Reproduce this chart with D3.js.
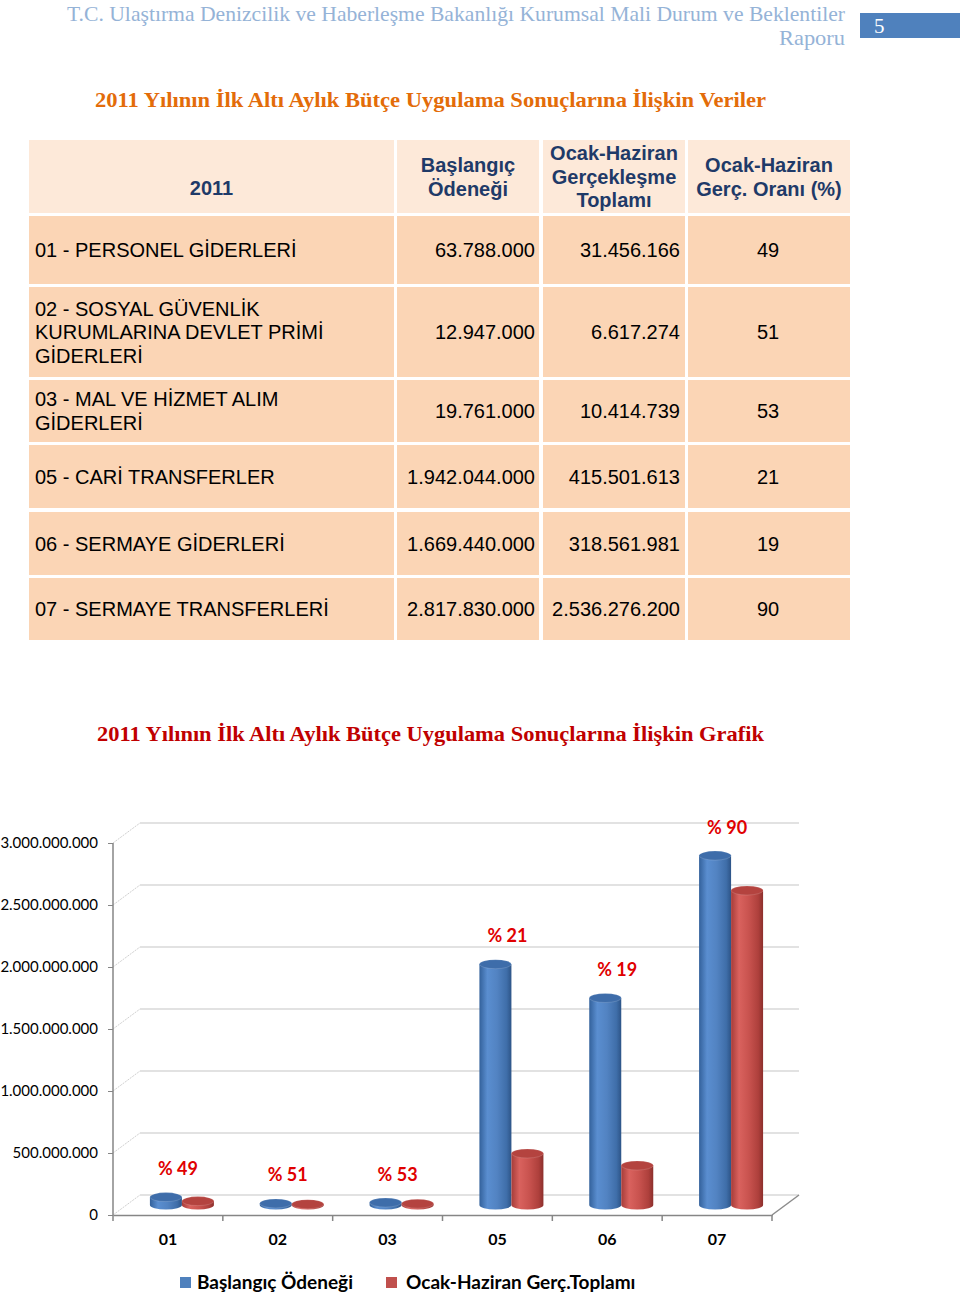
<!DOCTYPE html>
<html>
<head>
<meta charset="utf-8">
<script src="https://cdn.jsdelivr.net/npm/d3@7"></script>
<style>
html,body{margin:0;padding:0;background:#fff;}
svg{display:block;}
</style>
</head>
<body>
<svg id="page" width="960" height="1295"></svg>
<script>
// ---------- DATA ----------
const codes = ["01", "02", "03", "05", "06", "07"];
const rowNames = [
  ["01 - PERSONEL GİDERLERİ"],
  ["02 - SOSYAL GÜVENLİK", "KURUMLARINA DEVLET PRİMİ", "GİDERLERİ"],
  ["03 - MAL VE HİZMET ALIM", "GİDERLERİ"],
  ["05 - CARİ TRANSFERLER"],
  ["06 - SERMAYE GİDERLERİ"],
  ["07 - SERMAYE TRANSFERLERİ"]
];
const baslangic = [63788000, 12947000, 19761000, 1942044000, 1669440000, 2817830000];
const gerceklesme = [31456166, 6617274, 10414739, 415501613, 318561981, 2536276200];
const oran = [49, 51, 53, 21, 19, 90];
const yTicks = [0, 500000000, 1000000000, 1500000000, 2000000000, 2500000000, 3000000000];
const headerCols = [["2011"], ["Başlangıç", "Ödeneği"], ["Ocak-Haziran", "Gerçekleşme", "Toplamı"], ["Ocak-Haziran", "Gerç. Oranı (%)"]];
const seriesNames = ["Başlangıç Ödeneği", "Ocak-Haziran Gerç.Toplamı"];
const docTitle = ["T.C. Ulaştırma Denizcilik ve Haberleşme Bakanlığı Kurumsal Mali Durum ve Beklentiler", "Raporu"];
const pageNo = "5";
const tableTitle = "2011 Yılının İlk Altı Aylık Bütçe Uygulama Sonuçlarına İlişkin Veriler";
const chartTitle = "2011 Yılının İlk Altı Aylık Bütçe Uygulama Sonuçlarına İlişkin Grafik";

// ---------- SETUP ----------
const svg = d3.select("#page");
const tr = d3.formatLocale({decimal: ",", thousands: ".", grouping: [3], currency: ["", ""]});
const fmt = tr.format(",d");

// ---------- PAGE HEADER ----------
svg.append("text").attr("x", 845).attr("y", 21).attr("text-anchor", "end")
  .attr("font-family", "Liberation Serif").attr("font-size", 21).attr("fill", "#95B3D7")
  .attr("textLength", 778).attr("lengthAdjust", "spacingAndGlyphs").text(docTitle[0]);
svg.append("text").attr("x", 845).attr("y", 45).attr("text-anchor", "end")
  .attr("font-family", "Liberation Serif").attr("font-size", 21).attr("fill", "#95B3D7")
  .attr("textLength", 66).attr("lengthAdjust", "spacingAndGlyphs").text(docTitle[1]);
svg.append("rect").attr("x", 860).attr("y", 13).attr("width", 100).attr("height", 25).attr("fill", "#4F81BD");
svg.append("text").attr("x", 874).attr("y", 33).attr("font-family", "Liberation Serif")
  .attr("font-size", 21).attr("fill", "#fff").text(pageNo);

// ---------- TABLE TITLE ----------
svg.append("text").attr("x", 95).attr("y", 107)
  .attr("font-family", "Liberation Serif").attr("font-weight", "bold").attr("font-size", 21)
  .attr("fill", "#E36C09").attr("textLength", 671).attr("lengthAdjust", "spacingAndGlyphs").text(tableTitle);

// ---------- TABLE ----------
const colX = [[29, 394], [397, 539], [543, 685], [688, 850]];
const headRow = [140, 213];
const rowY = [[216, 284], [287, 377], [380, 442], [445, 508], [512, 575], [578, 640]];
const tbl = svg.append("g").attr("font-family", "Liberation Sans, Arial").attr("font-size", 20);

colX.forEach((c, i) => {
  tbl.append("rect").attr("x", c[0]).attr("y", headRow[0]).attr("width", c[1] - c[0])
    .attr("height", headRow[1] - headRow[0]).attr("fill", "#FDE9D9");
  const lines = headerCols[i];
  const cx = (c[0] + c[1]) / 2;
  const start = lines.length === 3 ? 160 : 195 - (lines.length - 1) * 23;
  lines.forEach((t, j) => {
    tbl.append("text").attr("x", cx).attr("y", start + j * 23.5)
      .attr("text-anchor", "middle").attr("font-weight", "bold").attr("fill", "#1F3A68").text(t);
  });
});

rowY.forEach((r, i) => {
  colX.forEach(c => {
    tbl.append("rect").attr("x", c[0]).attr("y", r[0]).attr("width", c[1] - c[0])
      .attr("height", r[1] - r[0]).attr("fill", "#FBD5B5");
  });
  const mid = (r[0] + r[1]) / 2;
  const lines = rowNames[i];
  lines.forEach((t, j) => {
    tbl.append("text").attr("x", 35).attr("y", mid + 7 + (j - (lines.length - 1) / 2) * 23.5)
      .attr("fill", "#000").text(t);
  });
  tbl.append("text").attr("x", 535).attr("y", mid + 7).attr("text-anchor", "end").text(fmt(baslangic[i]));
  tbl.append("text").attr("x", 680).attr("y", mid + 7).attr("text-anchor", "end").text(fmt(gerceklesme[i]));
  tbl.append("text").attr("x", 768).attr("y", mid + 7).attr("text-anchor", "middle").text(oran[i]);
});

// ---------- CHART TITLE ----------
svg.append("text").attr("x", 97).attr("y", 741)
  .attr("font-family", "Liberation Serif").attr("font-weight", "bold").attr("font-size", 21)
  .attr("fill", "#C00000").attr("textLength", 667).attr("lengthAdjust", "spacingAndGlyphs").text(chartTitle);

// ---------- CHART ----------
const x0 = 113, x1 = 772, yBottom = 1215, yTop = 843;
const dx = 27, dy = -20;           // 3D depth offset
const x = d3.scaleBand().domain(codes).range([x0, x1]).paddingInner(0).paddingOuter(0);
const y = d3.scaleLinear().domain([0, 3000000000]).range([yBottom, yTop]);
const chart = svg.append("g");

// back wall gridlines and side wall connectors
yTicks.forEach(v => {
  chart.append("line").attr("x1", x0 + dx).attr("x2", x1 + dx)
    .attr("y1", y(v) + dy).attr("y2", y(v) + dy).attr("stroke", "#D9D9D9").attr("stroke-width", 1.5);
  chart.append("line").attr("x1", x0).attr("y1", y(v)).attr("x2", x0 + dx).attr("y2", y(v) + dy)
    .attr("stroke", "#D0D0D0").attr("stroke-width", 1).attr("stroke-dasharray", "2,1");
});
// floor right edge
chart.append("line").attr("x1", x1).attr("y1", yBottom).attr("x2", x1 + dx).attr("y2", yBottom + dy)
  .attr("stroke", "#8C8C8C").attr("stroke-width", 1.5);

// gradients
const defs = svg.append("defs");
function grad(id, stops) {
  const g = defs.append("linearGradient").attr("id", id).attr("x1", "0%").attr("x2", "100%").attr("y1", "0%").attr("y2", "0%");
  stops.forEach(s => g.append("stop").attr("offset", s[0]).attr("stop-color", s[1]));
}
grad("gBlue", [["0%", "#33619B"], ["25%", "#5A8ED0"], ["55%", "#5283C2"], ["85%", "#3F6EA9"], ["100%", "#2D5487"]]);
grad("gRed", [["0%", "#A63C39"], ["25%", "#D9625E"], ["55%", "#C9534F"], ["85%", "#AE403C"], ["100%", "#8C2F2C"]]);

const barW = 32, rx = 16, ry = 4.5;
const depthX = 14, depthY = -10;
const series = [
  {vals: baslangic, fill: "url(#gBlue)", top: "#3E6DAA", off: 0},
  {vals: gerceklesme, fill: "url(#gRed)", top: "#B4433F", off: 1}
];
function cylinder(g, xl, ytop, ybase, fill, topFill) {
  const xr = xl + barW;
  g.append("path")
    .attr("d", `M${xl},${ytop} L${xl},${ybase} A${rx},${ry} 0 0 0 ${xr},${ybase} L${xr},${ytop} Z`)
    .attr("fill", fill);
  g.append("ellipse").attr("cx", xl + rx).attr("cy", ytop).attr("rx", rx).attr("ry", ry)
    .attr("fill", topFill).attr("stroke", "#ffffff").attr("stroke-opacity", 0.15);
}
codes.forEach((c, i) => {
  const center = x(c) + x.bandwidth() / 2 + depthX;
  series.forEach(s => {
    const xl = center - barW + s.off * barW;
    cylinder(chart, xl, y(s.vals[i]) + depthY, y(0) + depthY, s.fill, s.top);
  });
  chart.append("text").attr("x", x(c) + x.bandwidth() / 2 + 10).attr("y", y(baslangic[i]) + depthY - 22)
    .attr("text-anchor", "middle").attr("font-family", "Lato, Open Sans, sans-serif")
    .attr("font-weight", "bold").attr("font-size", 18).attr("fill", "#E00000").text("% " + oran[i]);
});

// y axis
const yAxis = chart.append("g").attr("transform", `translate(${x0},0)`)
  .call(d3.axisLeft(y).tickValues(yTicks).tickSize(5).tickPadding(10).tickFormat(v => fmt(v)));
yAxis.select(".domain").remove();
yAxis.selectAll(".tick line").attr("stroke", "#868686");
yAxis.selectAll(".tick text").attr("font-family", "Lato, sans-serif").attr("font-size", 15).attr("fill", "#000");
chart.append("line").attr("x1", x0).attr("x2", x0).attr("y1", yTop).attr("y2", yBottom)
  .attr("stroke", "#868686").attr("stroke-width", 1.5);

// x axis
const xAxis = chart.append("g").attr("transform", `translate(0,${yBottom})`)
  .call(d3.axisBottom(x).tickSize(0).tickPadding(19));
xAxis.select(".domain").attr("stroke", "#868686").attr("stroke-width", 1.5);
xAxis.selectAll(".tick text").attr("font-family", "Lato, sans-serif").attr("font-weight", "bold")
  .attr("font-size", 16).attr("fill", "#000");
const bounds = codes.map(c => x(c)).concat([x1]);
bounds.forEach(b => {
  chart.append("line").attr("x1", b).attr("x2", b).attr("y1", yBottom).attr("y2", yBottom + 6)
    .attr("stroke", "#868686").attr("stroke-width", 1.5);
});

// legend
const legend = svg.append("g").attr("font-family", "Lato, sans-serif").attr("font-weight", "bold").attr("font-size", 19);
const legX = [180, 386];
const legCol = ["#4F81BD", "#C0504D"];
seriesNames.forEach((n, i) => {
  legend.append("rect").attr("x", legX[i]).attr("y", 1277).attr("width", 11).attr("height", 11).attr("fill", legCol[i]);
  legend.append("text").attr("x", legX[i] + (i === 0 ? 17 : 20)).attr("y", 1289).attr("fill", "#000").text(n);
});
</script>
</body>
</html>
